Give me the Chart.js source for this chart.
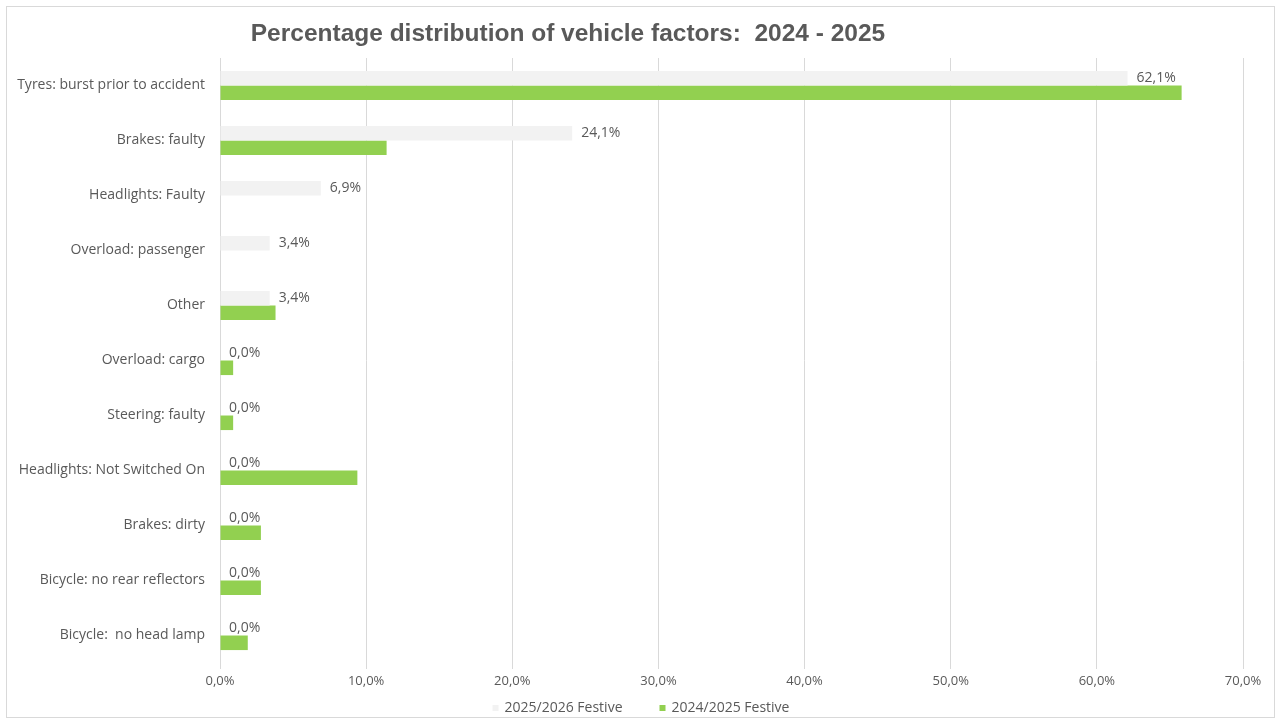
<!DOCTYPE html>
<html>
<head>
<meta charset="utf-8">
<script src="https://cdn.jsdelivr.net/npm/chart.js@4.4.1/dist/chart.umd.min.js"></script>
<style>
  html, body { margin: 0; padding: 0; background: #ffffff; }
  #wrap { width: 1281px; height: 723px; position: relative; }
</style>
</head>
<body>
<div id="wrap"><canvas id="myChart" width="1281" height="723"></canvas></div>
<script>
const categories = [
    "Tyres: burst prior to accident",
    "Brakes: faulty",
    "Headlights: Faulty",
    "Overload: passenger",
    "Other",
    "Overload: cargo",
    "Steering: faulty",
    "Headlights: Not Switched On",
    "Brakes: dirty",
    "Bicycle: no rear reflectors",
    "Bicycle:  no head lamp"
]
const festive2025 = [62.1, 24.1, 6.9, 3.4, 3.4, 0, 0, 0, 0, 0, 0]
const festive2024 = [65.8, 11.4, 0, 0, 3.8, 0.9, 0.9, 9.4, 2.8, 2.8, 1.9]
const xTicks = [0, 10, 20, 30, 40, 50, 60, 70]

const titleText = "Percentage distribution of vehicle factors:  2024 - 2025"
const textColor = "#595959"
const fontName = "'Open Sans', sans-serif"

const pct = v => Number(v).toFixed(1).replace('.', ',') + '%'

// frame and title, like the excel chart
const framePlugin = {
    id: 'frame',
    beforeDraw(chart) {
        const ctx = chart.ctx
        ctx.save()
        ctx.fillStyle = '#ffffff'
        ctx.fillRect(0, 0, chart.width, chart.height)
        ctx.strokeStyle = '#d9d9d9'
        ctx.lineWidth = 1
        ctx.strokeRect(6.5, 6.5, chart.width - 13, chart.height - 12)
        ctx.fillStyle = textColor
        ctx.font = "bold 24.5px 'Liberation Sans', Arial, sans-serif"
        ctx.textAlign = 'center'
        ctx.textBaseline = 'middle'
        ctx.fillText(titleText, 568, 34)
        ctx.restore()
    }
}

// value labels for the first series only
const labelPlugin = {
    id: 'valueLabels',
    afterDatasetsDraw(chart) {
        const ctx = chart.ctx
        const meta = chart.getDatasetMeta(0)
        ctx.save()
        ctx.fillStyle = textColor
        ctx.font = "14px " + fontName
        ctx.textAlign = 'left'
        ctx.textBaseline = 'middle'
        meta.data.forEach((bar, i) => {
            ctx.fillText(pct(festive2025[i]), bar.x + 9, bar.y)
        })
        ctx.restore()
    }
}

// legend with wide gap between the two items (excel style)
const legendPlugin = {
    id: 'wideLegend',
    afterDraw(chart) {
        const ctx = chart.ctx
        const box = 6, gapText = 6, gapItem = 37
        ctx.save()
        ctx.font = "14px " + fontName
        ctx.textBaseline = 'middle'
        ctx.textAlign = 'left'
        const items = chart.data.datasets.map(ds => ({
            text: ds.label,
            color: ds.backgroundColor,
            w: box + gapText + ctx.measureText(ds.label).width
        }))
        const total = items.reduce((s, it) => s + it.w, 0) + gapItem * (items.length - 1)
        let x = 641 - total / 2
        const y = 708
        items.forEach(it => {
            ctx.fillStyle = it.color
            ctx.fillRect(x, y - box / 2, box, box)
            ctx.fillStyle = textColor
            ctx.fillText(it.text, x + box + gapText, y)
            x += it.w + gapItem
        })
        ctx.restore()
    }
}

const ctx = document.getElementById('myChart')
const myChart = new Chart(ctx, {
    type: 'bar',
    data: {
        labels: categories,
        datasets: [{
            label: '2025/2026 Festive',
            data: festive2025,
            backgroundColor: '#f2f2f2',
            borderWidth: 0
        },
        {
            label: '2024/2025 Festive',
            data: festive2024,
            backgroundColor: '#92d050',
            borderWidth: 0
        }]
    },
    options: {
        indexAxis: 'y',
        responsive: false,
        animation: false,
        datasets: {
            bar: { categoryPercentage: 0.53, barPercentage: 1.0 }
        },
        layout: {
            padding: { top: 58, right: 38, bottom: 29, left: 0 }
        },
        scales: {
            x: {
                min: 0,
                max: 70,
                afterBuildTicks: scale => { scale.ticks = xTicks.map(v => ({ value: v })) },
                afterFit: scale => { scale.height = 31 },
                ticks: {
                    callback: v => pct(v),
                    color: textColor,
                    font: { family: fontName, size: 13 },
                    padding: 4
                },
                grid: { color: '#d9d9d9', lineWidth: 1, tickLength: 6 },
                border: { display: false }
            },
            y: {
                afterFit: scale => { scale.width = 220 },
                ticks: {
                    color: textColor,
                    font: { family: fontName, size: 14 },
                    padding: 7
                },
                grid: { display: false },
                border: { display: false }
            }
        },
        plugins: {
            legend: { display: false },
            tooltip: { enabled: false },
            title: { display: false }
        }
    },
    plugins: [framePlugin, labelPlugin, legendPlugin]
})
</script>
</body>
</html>
